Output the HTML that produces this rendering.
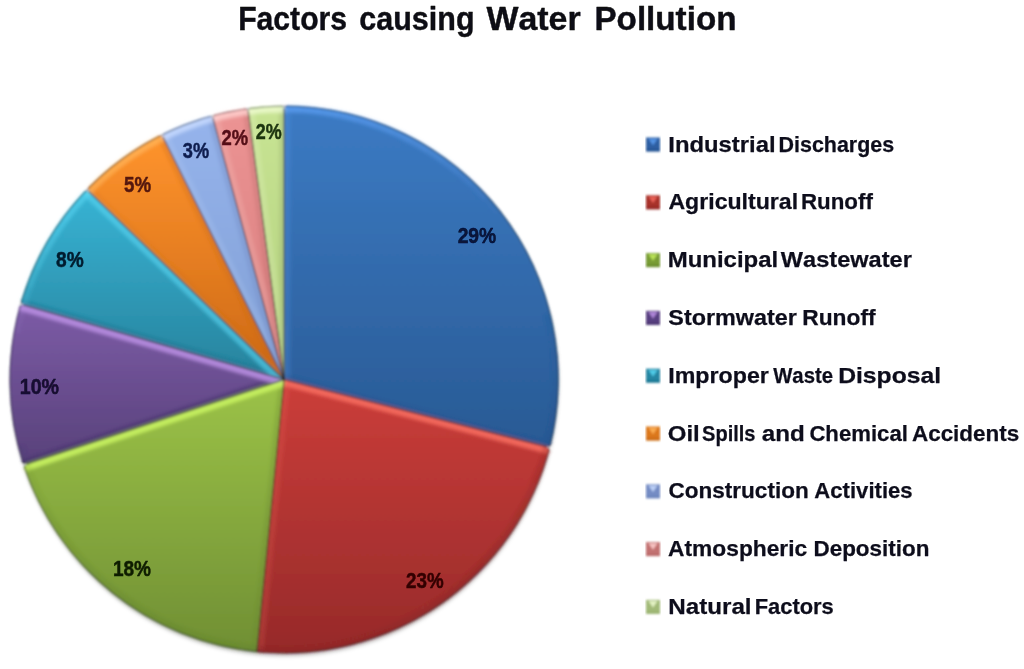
<!DOCTYPE html>
<html><head><meta charset="utf-8"><title>Factors causing Water Pollution</title>
<style>
html,body{margin:0;padding:0;background:#fff;}
body{width:1024px;height:669px;overflow:hidden;font-family:"Liberation Sans",sans-serif;}
svg{display:block;}
</style></head><body>
<svg width="1024" height="669" viewBox="0 0 1024 669">
<rect width="1024" height="669" fill="#fff"/>
<defs>
<clipPath id="c0"><path d="M284.10,379.50 L284.10,105.70 A274.50,273.80 0 0 1 549.98,447.59 Z"/></clipPath>
<clipPath id="c1"><path d="M284.10,379.50 L549.98,447.59 A274.50,273.80 0 0 1 256.84,651.95 Z"/></clipPath>
<clipPath id="c2"><path d="M284.10,379.50 L256.84,651.95 A274.50,273.80 0 0 1 23.33,465.02 Z"/></clipPath>
<clipPath id="c3"><path d="M284.10,379.50 L23.33,465.02 A274.50,273.80 0 0 1 20.23,304.03 Z"/></clipPath>
<clipPath id="c4"><path d="M284.10,379.50 L20.23,304.03 A274.50,273.80 0 0 1 86.64,189.30 Z"/></clipPath>
<clipPath id="c5"><path d="M284.10,379.50 L86.64,189.30 A274.50,273.80 0 0 1 161.62,134.47 Z"/></clipPath>
<clipPath id="c6"><path d="M284.10,379.50 L161.62,134.47 A274.50,273.80 0 0 1 212.13,115.28 Z"/></clipPath>
<clipPath id="c7"><path d="M284.10,379.50 L212.13,115.28 A274.50,273.80 0 0 1 247.80,108.11 Z"/></clipPath>
<clipPath id="c8"><path d="M284.10,379.50 L247.80,108.11 A274.50,273.80 0 0 1 284.10,105.70 Z"/></clipPath>
<linearGradient id="g0" x1="0" y1="0" x2="0" y2="1"><stop offset="0" stop-color="#3c7bc4"/><stop offset="1" stop-color="#295a94"/></linearGradient>
<linearGradient id="g1" x1="0" y1="0" x2="0" y2="1"><stop offset="0" stop-color="#cc3e3a"/><stop offset="1" stop-color="#962a2a"/></linearGradient>
<linearGradient id="g2" x1="0" y1="0" x2="0" y2="1"><stop offset="0" stop-color="#9cc348"/><stop offset="1" stop-color="#708f34"/></linearGradient>
<linearGradient id="g3" x1="0" y1="0" x2="0" y2="1"><stop offset="0" stop-color="#7d5ca7"/><stop offset="1" stop-color="#58417a"/></linearGradient>
<linearGradient id="g4" x1="0" y1="0" x2="0" y2="1"><stop offset="0" stop-color="#38b4d5"/><stop offset="1" stop-color="#27829c"/></linearGradient>
<linearGradient id="g5" x1="0" y1="0" x2="0" y2="1"><stop offset="0" stop-color="#ff942e"/><stop offset="1" stop-color="#cc6814"/></linearGradient>
<linearGradient id="g6" x1="0" y1="0" x2="0" y2="1"><stop offset="0" stop-color="#96b4ec"/><stop offset="1" stop-color="#809ed4"/></linearGradient>
<linearGradient id="g7" x1="0" y1="0" x2="0" y2="1"><stop offset="0" stop-color="#ec9494"/><stop offset="1" stop-color="#d67c7c"/></linearGradient>
<linearGradient id="g8" x1="0" y1="0" x2="0" y2="1"><stop offset="0" stop-color="#c8e494"/><stop offset="1" stop-color="#b2d07c"/></linearGradient>
<clipPath id="pc"><ellipse cx="284.1" cy="379.5" rx="274.5" ry="273.8"/></clipPath>
<linearGradient id="shade" x1="0.35" y1="0" x2="0.65" y2="1">
<stop offset="0" stop-color="#fff" stop-opacity="0.07"/><stop offset="0.35" stop-color="#fff" stop-opacity="0"/>
<stop offset="0.45" stop-color="#000" stop-opacity="0"/><stop offset="1" stop-color="#000" stop-opacity="0.17"/></linearGradient>
<linearGradient id="rim" x1="0.3" y1="0" x2="0.7" y2="1">
<stop offset="0" stop-color="#fff" stop-opacity="0.6"/><stop offset="0.3" stop-color="#fff" stop-opacity="0.05"/>
<stop offset="0.5" stop-color="#000" stop-opacity="0.05"/><stop offset="1" stop-color="#000" stop-opacity="0.35"/></linearGradient>
<linearGradient id="mk" x1="0" y1="0" x2="0.6" y2="1">
<stop offset="0" stop-color="#fff" stop-opacity="0.45"/><stop offset="0.45" stop-color="#fff" stop-opacity="0"/>
<stop offset="0.6" stop-color="#000" stop-opacity="0"/><stop offset="1" stop-color="#000" stop-opacity="0.3"/></linearGradient>
<filter id="soft" x="-5%" y="-5%" width="110%" height="110%"><feGaussianBlur stdDeviation="0.8"/></filter>
<filter id="sh" x="-5%" y="-5%" width="110%" height="110%"><feGaussianBlur stdDeviation="2.2"/></filter>
<filter id="soft2" x="-5%" y="-5%" width="110%" height="110%"><feGaussianBlur stdDeviation="1.4"/></filter>
<filter id="tsoft" x="-5%" y="-20%" width="110%" height="140%"><feGaussianBlur stdDeviation="0.6"/></filter>

</defs>
<ellipse cx="284.6" cy="382.5" rx="273.5" ry="273.3" fill="#000" fill-opacity="0.28" filter="url(#sh)"/>
<g filter="url(#soft)">
<path d="M284.10,379.50 L284.10,105.70 A274.50,273.80 0 0 1 549.98,447.59 Z" fill="url(#g0)"/>
<path d="M284.10,379.50 L549.98,447.59 A274.50,273.80 0 0 1 256.84,651.95 Z" fill="url(#g1)"/>
<path d="M284.10,379.50 L256.84,651.95 A274.50,273.80 0 0 1 23.33,465.02 Z" fill="url(#g2)"/>
<path d="M284.10,379.50 L23.33,465.02 A274.50,273.80 0 0 1 20.23,304.03 Z" fill="url(#g3)"/>
<path d="M284.10,379.50 L20.23,304.03 A274.50,273.80 0 0 1 86.64,189.30 Z" fill="url(#g4)"/>
<path d="M284.10,379.50 L86.64,189.30 A274.50,273.80 0 0 1 161.62,134.47 Z" fill="url(#g5)"/>
<path d="M284.10,379.50 L161.62,134.47 A274.50,273.80 0 0 1 212.13,115.28 Z" fill="url(#g6)"/>
<path d="M284.10,379.50 L212.13,115.28 A274.50,273.80 0 0 1 247.80,108.11 Z" fill="url(#g7)"/>
<path d="M284.10,379.50 L247.80,108.11 A274.50,273.80 0 0 1 284.10,105.70 Z" fill="url(#g8)"/>
<g filter="url(#soft2)">
<g clip-path="url(#c0)"><line x1="284.1" y1="379.5" x2="284.10" y2="105.70" stroke="#5a9cf0" stroke-opacity="0.22" stroke-width="13"/><line x1="284.1" y1="379.5" x2="549.98" y2="447.59" stroke="#234f8c" stroke-opacity="0.41" stroke-width="10"/></g>
<g clip-path="url(#c1)"><line x1="284.1" y1="379.5" x2="549.98" y2="447.59" stroke="#f46a5e" stroke-opacity="0.95" stroke-width="13"/><line x1="284.1" y1="379.5" x2="256.84" y2="651.95" stroke="#f46a5e" stroke-opacity="0.18" stroke-width="13"/></g>
<g clip-path="url(#c2)"><line x1="284.1" y1="379.5" x2="256.84" y2="651.95" stroke="#64862a" stroke-opacity="0.30" stroke-width="10"/><line x1="284.1" y1="379.5" x2="23.33" y2="465.02" stroke="#c4ee5e" stroke-opacity="1.00" stroke-width="13"/></g>
<g clip-path="url(#c3)"><line x1="284.1" y1="379.5" x2="23.33" y2="465.02" stroke="#43306a" stroke-opacity="0.68" stroke-width="10"/><line x1="284.1" y1="379.5" x2="20.23" y2="304.03" stroke="#bd92e6" stroke-opacity="0.85" stroke-width="13"/></g>
<g clip-path="url(#c4)"><line x1="284.1" y1="379.5" x2="20.23" y2="304.03" stroke="#1b6f8a" stroke-opacity="0.45" stroke-width="10"/><line x1="284.1" y1="379.5" x2="86.64" y2="189.30" stroke="#58d6f2" stroke-opacity="0.60" stroke-width="13"/></g>
<g clip-path="url(#c5)"><line x1="284.1" y1="379.5" x2="86.64" y2="189.30" stroke="#c26414" stroke-opacity="0.15" stroke-width="10"/><line x1="284.1" y1="379.5" x2="161.62" y2="134.47" stroke="#c26414" stroke-opacity="0.30" stroke-width="10"/></g>
<g clip-path="url(#c6)"><line x1="284.1" y1="379.5" x2="161.62" y2="134.47" stroke="#c8dbff" stroke-opacity="0.15" stroke-width="13"/><line x1="284.1" y1="379.5" x2="212.13" y2="115.28" stroke="#6c84bc" stroke-opacity="0.34" stroke-width="10"/></g>
<g clip-path="url(#c7)"><line x1="284.1" y1="379.5" x2="212.13" y2="115.28" stroke="#ffd0cf" stroke-opacity="0.20" stroke-width="13"/><line x1="284.1" y1="379.5" x2="247.80" y2="108.11" stroke="#b86868" stroke-opacity="0.34" stroke-width="10"/></g>
<g clip-path="url(#c8)"><line x1="284.1" y1="379.5" x2="247.80" y2="108.11" stroke="#eefbd0" stroke-opacity="0.20" stroke-width="13"/><line x1="284.1" y1="379.5" x2="284.10" y2="105.70" stroke="#98b070" stroke-opacity="0.38" stroke-width="10"/></g>
<g clip-path="url(#pc)" fill="none" stroke-width="9" stroke-linecap="butt"><path d="M284.10,107.89 A272.30,271.61 0 0 1 303.09,108.55" stroke="#5a9cf0" stroke-opacity="0.79"/><path d="M303.09,108.55 A272.30,271.61 0 0 1 322.00,110.53" stroke="#5a9cf0" stroke-opacity="0.76"/><path d="M322.00,110.53 A272.30,271.61 0 0 1 340.72,113.83" stroke="#5a9cf0" stroke-opacity="0.72"/><path d="M340.72,113.83 A272.30,271.61 0 0 1 359.16,118.41" stroke="#5a9cf0" stroke-opacity="0.68"/><path d="M359.16,118.41 A272.30,271.61 0 0 1 377.23,124.27" stroke="#5a9cf0" stroke-opacity="0.63"/><path d="M377.23,124.27 A272.30,271.61 0 0 1 394.86,131.37" stroke="#5a9cf0" stroke-opacity="0.57"/><path d="M394.86,131.37 A272.30,271.61 0 0 1 411.94,139.68" stroke="#5a9cf0" stroke-opacity="0.51"/><path d="M411.94,139.68 A272.30,271.61 0 0 1 428.40,149.16" stroke="#5a9cf0" stroke-opacity="0.44"/><path d="M428.40,149.16 A272.30,271.61 0 0 1 444.16,159.76" stroke="#5a9cf0" stroke-opacity="0.37"/><path d="M444.16,159.76 A272.30,271.61 0 0 1 459.13,171.43" stroke="#5a9cf0" stroke-opacity="0.30"/><path d="M459.13,171.43 A272.30,271.61 0 0 1 473.26,184.12" stroke="#5a9cf0" stroke-opacity="0.22"/><path d="M473.26,184.12 A272.30,271.61 0 0 1 486.46,197.76" stroke="#5a9cf0" stroke-opacity="0.13"/><path d="M486.46,197.76 A272.30,271.61 0 0 1 498.68,212.28" stroke="#5a9cf0" stroke-opacity="0.04"/><path d="M498.68,212.28 A272.30,271.61 0 0 1 509.85,227.62" stroke="#5a9cf0" stroke-opacity="0.00"/><path d="M509.85,227.62 A272.30,271.61 0 0 1 519.92,243.70" stroke="#5a9cf0" stroke-opacity="0.00"/><path d="M519.92,243.70 A272.30,271.61 0 0 1 528.85,260.43" stroke="#5a9cf0" stroke-opacity="0.00"/><path d="M528.85,260.43 A272.30,271.61 0 0 1 536.58,277.75" stroke="#5a9cf0" stroke-opacity="0.00"/><path d="M536.58,277.75 A272.30,271.61 0 0 1 543.08,295.57" stroke="#5a9cf0" stroke-opacity="0.00"/><path d="M543.08,295.57 A272.30,271.61 0 0 1 548.32,313.79" stroke="#5a9cf0" stroke-opacity="0.00"/><path d="M548.32,313.79 A272.30,271.61 0 0 1 552.27,332.34" stroke="#234f8c" stroke-opacity="0.12"/><path d="M552.27,332.34 A272.30,271.61 0 0 1 554.91,351.11" stroke="#234f8c" stroke-opacity="0.14"/><path d="M554.91,351.11 A272.30,271.61 0 0 1 556.24,370.02" stroke="#234f8c" stroke-opacity="0.16"/><path d="M556.24,370.02 A272.30,271.61 0 0 1 556.24,388.98" stroke="#234f8c" stroke-opacity="0.19"/><path d="M556.24,388.98 A272.30,271.61 0 0 1 554.91,407.89" stroke="#234f8c" stroke-opacity="0.21"/><path d="M554.91,407.89 A272.30,271.61 0 0 1 552.27,426.66" stroke="#234f8c" stroke-opacity="0.23"/><path d="M552.27,426.66 A272.30,271.61 0 0 1 548.32,445.21" stroke="#234f8c" stroke-opacity="0.26"/><path d="M548.32,445.21 A272.30,271.61 0 0 1 547.85,447.05" stroke="#234f8c" stroke-opacity="0.27"/><path d="M547.85,447.05 A272.30,271.61 0 0 1 542.48,465.23" stroke="#8c2624" stroke-opacity="0.28"/><path d="M542.48,465.23 A272.30,271.61 0 0 1 535.86,483.00" stroke="#8c2624" stroke-opacity="0.30"/><path d="M535.86,483.00 A272.30,271.61 0 0 1 528.01,500.27" stroke="#8c2624" stroke-opacity="0.32"/><path d="M528.01,500.27 A272.30,271.61 0 0 1 518.97,516.94" stroke="#8c2624" stroke-opacity="0.34"/><path d="M518.97,516.94 A272.30,271.61 0 0 1 508.78,532.95" stroke="#8c2624" stroke-opacity="0.36"/><path d="M508.78,532.95 A272.30,271.61 0 0 1 497.50,548.21" stroke="#8c2624" stroke-opacity="0.37"/><path d="M497.50,548.21 A272.30,271.61 0 0 1 485.18,562.65" stroke="#8c2624" stroke-opacity="0.39"/><path d="M485.18,562.65 A272.30,271.61 0 0 1 471.89,576.19" stroke="#8c2624" stroke-opacity="0.40"/><path d="M471.89,576.19 A272.30,271.61 0 0 1 457.67,588.78" stroke="#8c2624" stroke-opacity="0.41"/><path d="M457.67,588.78 A272.30,271.61 0 0 1 442.61,600.35" stroke="#8c2624" stroke-opacity="0.42"/><path d="M442.61,600.35 A272.30,271.61 0 0 1 426.78,610.84" stroke="#8c2624" stroke-opacity="0.43"/><path d="M426.78,610.84 A272.30,271.61 0 0 1 410.26,620.20" stroke="#8c2624" stroke-opacity="0.44"/><path d="M410.26,620.20 A272.30,271.61 0 0 1 393.12,628.39" stroke="#8c2624" stroke-opacity="0.44"/><path d="M393.12,628.39 A272.30,271.61 0 0 1 375.44,635.37" stroke="#8c2624" stroke-opacity="0.45"/><path d="M375.44,635.37 A272.30,271.61 0 0 1 357.33,641.10" stroke="#8c2624" stroke-opacity="0.45"/><path d="M357.33,641.10 A272.30,271.61 0 0 1 338.85,645.56" stroke="#8c2624" stroke-opacity="0.45"/><path d="M338.85,645.56 A272.30,271.61 0 0 1 320.11,648.72" stroke="#8c2624" stroke-opacity="0.45"/><path d="M320.11,648.72 A272.30,271.61 0 0 1 301.20,650.57" stroke="#8c2624" stroke-opacity="0.45"/><path d="M301.20,650.57 A272.30,271.61 0 0 1 282.20,651.10" stroke="#8c2624" stroke-opacity="0.44"/><path d="M282.20,651.10 A272.30,271.61 0 0 1 263.21,650.31" stroke="#8c2624" stroke-opacity="0.43"/><path d="M263.21,650.31 A272.30,271.61 0 0 1 257.05,649.77" stroke="#8c2624" stroke-opacity="0.43"/><path d="M257.05,649.77 A272.30,271.61 0 0 1 238.22,647.23" stroke="#64862a" stroke-opacity="0.42"/><path d="M238.22,647.23 A272.30,271.61 0 0 1 219.61,643.38" stroke="#64862a" stroke-opacity="0.41"/><path d="M219.61,643.38 A272.30,271.61 0 0 1 201.31,638.25" stroke="#64862a" stroke-opacity="0.40"/><path d="M201.31,638.25 A272.30,271.61 0 0 1 183.42,631.86" stroke="#64862a" stroke-opacity="0.39"/><path d="M183.42,631.86 A272.30,271.61 0 0 1 166.01,624.24" stroke="#64862a" stroke-opacity="0.38"/><path d="M166.01,624.24 A272.30,271.61 0 0 1 149.18,615.43" stroke="#64862a" stroke-opacity="0.36"/><path d="M149.18,615.43 A272.30,271.61 0 0 1 133.01,605.47" stroke="#64862a" stroke-opacity="0.34"/><path d="M133.01,605.47 A272.30,271.61 0 0 1 117.58,594.40" stroke="#64862a" stroke-opacity="0.32"/><path d="M117.58,594.40 A272.30,271.61 0 0 1 102.96,582.29" stroke="#64862a" stroke-opacity="0.30"/><path d="M102.96,582.29 A272.30,271.61 0 0 1 89.21,569.20" stroke="#64862a" stroke-opacity="0.28"/><path d="M89.21,569.20 A272.30,271.61 0 0 1 76.42,555.17" stroke="#64862a" stroke-opacity="0.26"/><path d="M76.42,555.17 A272.30,271.61 0 0 1 64.64,540.30" stroke="#64862a" stroke-opacity="0.24"/><path d="M64.64,540.30 A272.30,271.61 0 0 1 53.93,524.64" stroke="#64862a" stroke-opacity="0.22"/><path d="M53.93,524.64 A272.30,271.61 0 0 1 44.34,508.27" stroke="#64862a" stroke-opacity="0.20"/><path d="M44.34,508.27 A272.30,271.61 0 0 1 35.92,491.27" stroke="#64862a" stroke-opacity="0.17"/><path d="M35.92,491.27 A272.30,271.61 0 0 1 28.71,473.73" stroke="#64862a" stroke-opacity="0.15"/><path d="M28.71,473.73 A272.30,271.61 0 0 1 25.42,464.33" stroke="#64862a" stroke-opacity="0.13"/><path d="M25.42,464.33 A272.30,271.61 0 0 1 20.12,446.13" stroke="#43306a" stroke-opacity="0.11"/><path d="M20.12,446.13 A272.30,271.61 0 0 1 16.10,427.60" stroke="#bd92e6" stroke-opacity="0.00"/><path d="M16.10,427.60 A272.30,271.61 0 0 1 13.39,408.83" stroke="#bd92e6" stroke-opacity="0.00"/><path d="M13.39,408.83 A272.30,271.61 0 0 1 12.00,389.93" stroke="#bd92e6" stroke-opacity="0.00"/><path d="M12.00,389.93 A272.30,271.61 0 0 1 11.93,370.97" stroke="#bd92e6" stroke-opacity="0.00"/><path d="M11.93,370.97 A272.30,271.61 0 0 1 13.19,352.05" stroke="#bd92e6" stroke-opacity="0.00"/><path d="M13.19,352.05 A272.30,271.61 0 0 1 15.77,333.27" stroke="#bd92e6" stroke-opacity="0.00"/><path d="M15.77,333.27 A272.30,271.61 0 0 1 19.66,314.71" stroke="#bd92e6" stroke-opacity="0.06"/><path d="M19.66,314.71 A272.30,271.61 0 0 1 22.34,304.63" stroke="#bd92e6" stroke-opacity="0.13"/><path d="M22.34,304.63 A272.30,271.61 0 0 1 28.22,286.60" stroke="#58d6f2" stroke-opacity="0.19"/><path d="M28.22,286.60 A272.30,271.61 0 0 1 35.34,269.03" stroke="#58d6f2" stroke-opacity="0.28"/><path d="M35.34,269.03 A272.30,271.61 0 0 1 43.67,251.99" stroke="#58d6f2" stroke-opacity="0.35"/><path d="M43.67,251.99 A272.30,271.61 0 0 1 53.17,235.57" stroke="#58d6f2" stroke-opacity="0.43"/><path d="M53.17,235.57 A272.30,271.61 0 0 1 63.80,219.85" stroke="#58d6f2" stroke-opacity="0.49"/><path d="M63.80,219.85 A272.30,271.61 0 0 1 75.50,204.91" stroke="#58d6f2" stroke-opacity="0.56"/><path d="M75.50,204.91 A272.30,271.61 0 0 1 88.22,190.82" stroke="#58d6f2" stroke-opacity="0.61"/><path d="M88.22,190.82 A272.30,271.61 0 0 1 101.89,177.65" stroke="#ffb458" stroke-opacity="0.67"/><path d="M101.89,177.65 A272.30,271.61 0 0 1 116.45,165.47" stroke="#ffb458" stroke-opacity="0.71"/><path d="M116.45,165.47 A272.30,271.61 0 0 1 131.83,154.33" stroke="#ffb458" stroke-opacity="0.75"/><path d="M131.83,154.33 A272.30,271.61 0 0 1 147.95,144.28" stroke="#ffb458" stroke-opacity="0.78"/><path d="M147.95,144.28 A272.30,271.61 0 0 1 162.60,136.43" stroke="#ffb458" stroke-opacity="0.81"/><path d="M162.60,136.43 A272.30,271.61 0 0 1 179.89,128.57" stroke="#c8dbff" stroke-opacity="0.83"/><path d="M179.89,128.57 A272.30,271.61 0 0 1 197.70,121.93" stroke="#c8dbff" stroke-opacity="0.84"/><path d="M197.70,121.93 A272.30,271.61 0 0 1 212.70,117.39" stroke="#c8dbff" stroke-opacity="0.85"/><path d="M212.70,117.39 A272.30,271.61 0 0 1 231.21,113.06" stroke="#ffd0cf" stroke-opacity="0.85"/><path d="M231.21,113.06 A272.30,271.61 0 0 1 248.09,110.28" stroke="#ffd0cf" stroke-opacity="0.84"/><path d="M248.09,110.28 A272.30,271.61 0 0 1 267.00,108.43" stroke="#eefbd0" stroke-opacity="0.83"/><path d="M267.00,108.43 A272.30,271.61 0 0 1 284.10,107.89" stroke="#eefbd0" stroke-opacity="0.82"/></g>
</g>
<line x1="284.1" y1="379.5" x2="284.10" y2="105.70" stroke="#14141a" stroke-opacity="0.68" stroke-width="1.1"/>
<line x1="284.1" y1="379.5" x2="549.98" y2="447.59" stroke="#14141a" stroke-opacity="0.68" stroke-width="1.1"/>
<line x1="284.1" y1="379.5" x2="256.84" y2="651.95" stroke="#14141a" stroke-opacity="0.68" stroke-width="1.1"/>
<line x1="284.1" y1="379.5" x2="23.33" y2="465.02" stroke="#14141a" stroke-opacity="0.68" stroke-width="1.1"/>
<line x1="284.1" y1="379.5" x2="20.23" y2="304.03" stroke="#14141a" stroke-opacity="0.68" stroke-width="1.1"/>
<line x1="284.1" y1="379.5" x2="86.64" y2="189.30" stroke="#14141a" stroke-opacity="0.68" stroke-width="1.1"/>
<line x1="284.1" y1="379.5" x2="161.62" y2="134.47" stroke="#14141a" stroke-opacity="0.68" stroke-width="1.1"/>
<line x1="284.1" y1="379.5" x2="212.13" y2="115.28" stroke="#14141a" stroke-opacity="0.68" stroke-width="1.1"/>
<line x1="284.1" y1="379.5" x2="247.80" y2="108.11" stroke="#14141a" stroke-opacity="0.68" stroke-width="1.1"/>
<path d="M282.16,102.97 L286.04,102.97 L284.10,109.26 Z" fill="#fff"/>
<path d="M553.11,446.40 L552.15,450.14 L546.52,446.71 Z" fill="#fff"/>
<path d="M21.34,467.70 L20.13,464.04 L26.72,463.91 Z" fill="#fff"/>
<path d="M17.07,305.13 L18.13,301.42 L23.66,305.01 Z" fill="#fff"/>
<path d="M83.33,188.79 L86.02,186.02 L89.21,191.78 Z" fill="#fff"/>
<path d="M158.66,132.88 L162.13,131.16 L163.21,137.65 Z" fill="#fff"/>
<path d="M209.54,113.15 L213.28,112.14 L213.06,118.71 Z" fill="#fff"/>
<path d="M245.51,105.65 L249.35,105.14 L248.27,111.63 Z" fill="#fff"/>
<ellipse cx="284.1" cy="379.5" rx="274.0" ry="273.3" fill="none" stroke="#0a1420" stroke-opacity="0.40" stroke-width="1.2"/>
</g>
<g font-family="'Liberation Sans', sans-serif" font-weight="bold" font-kerning="none" style="font-kerning:none" filter="url(#tsoft)" stroke-linejoin="round">
<text x="457.63" y="242.8" font-size="22.0" textLength="38.68" lengthAdjust="spacingAndGlyphs" fill="#081338" stroke="#081338" stroke-width="0.5">29%</text>
<text x="406.05" y="587.8" font-size="22.0" textLength="37.54" lengthAdjust="spacingAndGlyphs" fill="#330606" stroke="#330606" stroke-width="0.5">23%</text>
<text x="112.90" y="576.3" font-size="22.0" textLength="38.10" lengthAdjust="spacingAndGlyphs" fill="#101d06" stroke="#101d06" stroke-width="0.5">18%</text>
<text x="19.76" y="393.8" font-size="22.0" textLength="39.25" lengthAdjust="spacingAndGlyphs" fill="#170a30" stroke="#170a30" stroke-width="0.5">10%</text>
<text x="56.09" y="266.8" font-size="22.0" textLength="27.61" lengthAdjust="spacingAndGlyphs" fill="#041c2e" stroke="#041c2e" stroke-width="0.5">8%</text>
<text x="124.02" y="191.8" font-size="22.0" textLength="27.07" lengthAdjust="spacingAndGlyphs" fill="#54180e" stroke="#54180e" stroke-width="0.5">5%</text>
<text x="182.78" y="157.8" font-size="22.0" textLength="26.30" lengthAdjust="spacingAndGlyphs" fill="#101f50" stroke="#101f50" stroke-width="0.5">3%</text>
<text x="221.46" y="144.8" font-size="22.0" textLength="26.62" lengthAdjust="spacingAndGlyphs" fill="#541018" stroke="#541018" stroke-width="0.5">2%</text>
<text x="255.68" y="139.3" font-size="22.0" textLength="25.89" lengthAdjust="spacingAndGlyphs" fill="#1c340e" stroke="#1c340e" stroke-width="0.5">2%</text>
<text x="238.18" y="30.0" font-size="32.6" textLength="108.85" lengthAdjust="spacingAndGlyphs" fill="#0c0c12" stroke="#0c0c12" stroke-width="0.4">Factors</text>
<text x="359.31" y="30.0" font-size="32.6" textLength="115.23" lengthAdjust="spacingAndGlyphs" fill="#0c0c12" stroke="#0c0c12" stroke-width="0.4">causing</text>
<text x="486.47" y="30.0" font-size="32.6" textLength="94.15" lengthAdjust="spacingAndGlyphs" fill="#0c0c12" stroke="#0c0c12" stroke-width="0.4">Water</text>
<text x="594.48" y="30.0" font-size="32.6" textLength="141.98" lengthAdjust="spacingAndGlyphs" fill="#0c0c12" stroke="#0c0c12" stroke-width="0.4">Pollution</text>
<text x="668.31" y="151.5" font-size="22.6" textLength="107.28" lengthAdjust="spacingAndGlyphs" fill="#10101c" stroke="#10101c" stroke-width="0.25">Industrial</text>
<text x="778.57" y="151.5" font-size="22.6" textLength="115.61" lengthAdjust="spacingAndGlyphs" fill="#10101c" stroke="#10101c" stroke-width="0.25">Discharges</text>
<text x="668.42" y="209.3" font-size="22.6" textLength="129.71" lengthAdjust="spacingAndGlyphs" fill="#10101c" stroke="#10101c" stroke-width="0.25">Agricultural</text>
<text x="801.01" y="209.3" font-size="22.6" textLength="71.85" lengthAdjust="spacingAndGlyphs" fill="#10101c" stroke="#10101c" stroke-width="0.25">Runoff</text>
<text x="667.70" y="267.1" font-size="22.6" textLength="110.50" lengthAdjust="spacingAndGlyphs" fill="#10101c" stroke="#10101c" stroke-width="0.25">Municipal</text>
<text x="780.88" y="267.1" font-size="22.6" textLength="130.98" lengthAdjust="spacingAndGlyphs" fill="#10101c" stroke="#10101c" stroke-width="0.25">Wastewater</text>
<text x="668.33" y="324.9" font-size="22.6" textLength="128.53" lengthAdjust="spacingAndGlyphs" fill="#10101c" stroke="#10101c" stroke-width="0.25">Stormwater</text>
<text x="802.28" y="324.9" font-size="22.6" textLength="73.28" lengthAdjust="spacingAndGlyphs" fill="#10101c" stroke="#10101c" stroke-width="0.25">Runoff</text>
<text x="668.25" y="382.7" font-size="22.6" textLength="100.60" lengthAdjust="spacingAndGlyphs" fill="#10101c" stroke="#10101c" stroke-width="0.25">Improper</text>
<text x="773.18" y="382.7" font-size="22.6" textLength="59.81" lengthAdjust="spacingAndGlyphs" fill="#10101c" stroke="#10101c" stroke-width="0.25">Waste</text>
<text x="838.15" y="382.7" font-size="22.6" textLength="102.90" lengthAdjust="spacingAndGlyphs" fill="#10101c" stroke="#10101c" stroke-width="0.25">Disposal</text>
<text x="667.82" y="440.5" font-size="22.6" textLength="31.98" lengthAdjust="spacingAndGlyphs" fill="#10101c" stroke="#10101c" stroke-width="0.25">Oil</text>
<text x="702.02" y="440.5" font-size="22.6" textLength="53.50" lengthAdjust="spacingAndGlyphs" fill="#10101c" stroke="#10101c" stroke-width="0.25">Spills</text>
<text x="761.79" y="440.5" font-size="22.6" textLength="43.00" lengthAdjust="spacingAndGlyphs" fill="#10101c" stroke="#10101c" stroke-width="0.25">and</text>
<text x="809.39" y="440.5" font-size="22.6" textLength="98.48" lengthAdjust="spacingAndGlyphs" fill="#10101c" stroke="#10101c" stroke-width="0.25">Chemical</text>
<text x="911.94" y="440.5" font-size="22.6" textLength="107.28" lengthAdjust="spacingAndGlyphs" fill="#10101c" stroke="#10101c" stroke-width="0.25">Accidents</text>
<text x="668.48" y="498.3" font-size="22.6" textLength="140.22" lengthAdjust="spacingAndGlyphs" fill="#10101c" stroke="#10101c" stroke-width="0.25">Construction</text>
<text x="814.35" y="498.3" font-size="22.6" textLength="98.26" lengthAdjust="spacingAndGlyphs" fill="#10101c" stroke="#10101c" stroke-width="0.25">Activities</text>
<text x="668.13" y="556.1" font-size="22.6" textLength="139.03" lengthAdjust="spacingAndGlyphs" fill="#10101c" stroke="#10101c" stroke-width="0.25">Atmospheric</text>
<text x="813.50" y="556.1" font-size="22.6" textLength="115.89" lengthAdjust="spacingAndGlyphs" fill="#10101c" stroke="#10101c" stroke-width="0.25">Deposition</text>
<text x="668.28" y="613.9" font-size="22.6" textLength="83.33" lengthAdjust="spacingAndGlyphs" fill="#10101c" stroke="#10101c" stroke-width="0.25">Natural</text>
<text x="754.74" y="613.9" font-size="22.6" textLength="79.06" lengthAdjust="spacingAndGlyphs" fill="#10101c" stroke="#10101c" stroke-width="0.25">Factors</text>
</g>
<g filter="url(#soft)">
<rect x="646.0" y="137.5" width="14.0" height="14.0" fill="#2d5fa3"/>
<rect x="646.0" y="148.5" width="14.0" height="3" fill="#234f8c" fill-opacity="0.55"/>
<path d="M648.5,138.7 L657.5,138.7 L653.0,145.2 Z" fill="#5a9cf0" fill-opacity="0.85"/>
<rect x="646.0" y="195.3" width="14.0" height="14.0" fill="#a7302b"/>
<rect x="646.0" y="206.3" width="14.0" height="3" fill="#8c2624" fill-opacity="0.55"/>
<path d="M648.5,196.5 L657.5,196.5 L653.0,203.0 Z" fill="#f46a5e" fill-opacity="0.85"/>
<rect x="646.0" y="253.1" width="14.0" height="14.0" fill="#789c34"/>
<rect x="646.0" y="264.1" width="14.0" height="3" fill="#64862a" fill-opacity="0.55"/>
<path d="M648.5,254.3 L657.5,254.3 L653.0,260.8 Z" fill="#c4ee5e" fill-opacity="0.85"/>
<rect x="646.0" y="310.9" width="14.0" height="14.0" fill="#594081"/>
<rect x="646.0" y="321.9" width="14.0" height="3" fill="#43306a" fill-opacity="0.55"/>
<path d="M648.5,312.1 L657.5,312.1 L653.0,318.6 Z" fill="#bd92e6" fill-opacity="0.85"/>
<rect x="646.0" y="368.7" width="14.0" height="14.0" fill="#2586a3"/>
<rect x="646.0" y="379.7" width="14.0" height="3" fill="#1b6f8a" fill-opacity="0.55"/>
<path d="M648.5,369.9 L657.5,369.9 L653.0,376.4 Z" fill="#58d6f2" fill-opacity="0.85"/>
<rect x="646.0" y="426.5" width="14.0" height="14.0" fill="#dc781d"/>
<rect x="646.0" y="437.5" width="14.0" height="3" fill="#c26414" fill-opacity="0.55"/>
<path d="M648.5,427.7 L657.5,427.7 L653.0,434.2 Z" fill="#ffb458" fill-opacity="0.85"/>
<rect x="646.0" y="484.3" width="14.0" height="14.0" fill="#748cc4"/>
<rect x="646.0" y="495.3" width="14.0" height="3" fill="#6c84bc" fill-opacity="0.55"/>
<path d="M648.5,485.5 L657.5,485.5 L653.0,492.0 Z" fill="#c8dbff" fill-opacity="0.85"/>
<rect x="646.0" y="542.1" width="14.0" height="14.0" fill="#c27171"/>
<rect x="646.0" y="553.1" width="14.0" height="3" fill="#b86868" fill-opacity="0.55"/>
<path d="M648.5,543.3 L657.5,543.3 L653.0,549.8 Z" fill="#ffd0cf" fill-opacity="0.85"/>
<rect x="646.0" y="599.9" width="14.0" height="14.0" fill="#a2ba78"/>
<rect x="646.0" y="610.9" width="14.0" height="3" fill="#98b070" fill-opacity="0.55"/>
<path d="M648.5,601.1 L657.5,601.1 L653.0,607.6 Z" fill="#eefbd0" fill-opacity="0.85"/>
</g>
</svg>
</body></html>
